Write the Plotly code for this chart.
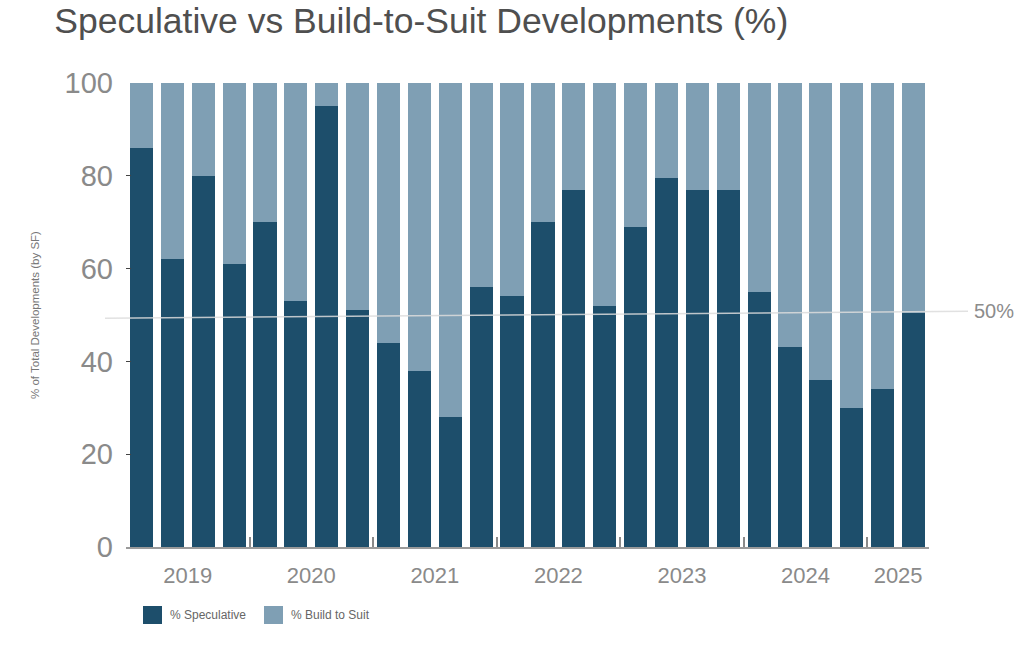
import plotly.graph_objects as go

quarters = [f"{y} Q{q}" for y in range(2019, 2025) for q in range(1, 5)] + ["2025 Q1", "2025 Q2"]
speculative = [86, 62, 80, 61, 70, 53, 95, 51, 44, 38, 28, 56, 54, 70, 77, 52,
               69, 79.5, 77, 77, 55, 43, 36, 30, 34, 50.5]
build_to_suit = [100 - v for v in speculative]
series_names = ["% Speculative", "% Build to Suit"]
year_labels = ["2019", "2020", "2021", "2022", "2023", "2024", "2025"]
year_label_pos = [1.5, 5.5, 9.5, 13.5, 17.5, 21.5, 24.5]
year_boundaries = [-0.5, 3.5, 7.5, 11.5, 15.5, 19.5, 23.5, 25.5]
y_ticks = [0, 20, 40, 60, 80, 100]
ref_line = [49.3, 50.8]

DARK = "#1d4e6b"
LIGHT = "#7f9fb4"
COLORS = [DARK, LIGHT]
W, H = 1024, 646
ML, MR, MT, MB = 126, 95, 83, 99
PW, PH = W - ML - MR, H - MT - MB


def px_x(px):
    return (px - ML) / PW


def px_y(py):
    return (H - MB - py) / PH


xs = list(range(len(quarters)))

fig = go.Figure()
for vals, name, col in zip([speculative, build_to_suit], series_names, COLORS):
    fig.add_trace(go.Bar(x=xs, y=vals, name=name, marker_color=col,
                         marker_line_width=0, customdata=quarters,
                         hovertemplate="%{customdata}: %{y}%<extra></extra>"))

# boundary tick marks on an overlaid axis
fig.add_trace(go.Scatter(x=[year_boundaries[0], year_boundaries[-1]], y=[0, 0], xaxis="x2",
                         mode="lines", line=dict(width=0), showlegend=False, hoverinfo="skip"))

# 50% reference line (slightly tilted as in the source image)
fig.add_shape(type="line", xref="paper", yref="y", x0=px_x(105), x1=px_x(968),
              y0=ref_line[0], y1=ref_line[1], line=dict(color="rgba(220,220,220,0.85)", width=1.5),
              layer="above")
fig.add_annotation(xref="paper", yref="y", x=px_x(972), y=ref_line[1], text="50%",
                   showarrow=False, xanchor="left", yanchor="middle",
                   font=dict(family="Liberation Sans", size=20, color="#8c8c8c"))

# custom legend with large swatches
legend_x = [143, 264]
for lx, name, col in zip(legend_x, series_names, COLORS):
    fig.add_shape(type="rect", xref="paper", yref="paper",
                  x0=px_x(lx), x1=px_x(lx + 19), y0=px_y(624), y1=px_y(606),
                  fillcolor=col, line=dict(width=0))
    fig.add_annotation(xref="paper", yref="paper", x=px_x(lx + 25), y=px_y(615), text=name,
                       showarrow=False, xanchor="left", yanchor="middle",
                       font=dict(family="Liberation Sans Narrow, Liberation Sans", size=12, color="#666666"))

fig.update_layout(
    width=W, height=H,
    barmode="stack", bargap=0.25,
    plot_bgcolor="white", paper_bgcolor="white",
    margin=dict(l=ML, r=MR, t=MT, b=MB, autoexpand=False),
    title=dict(text="Speculative vs Build-to-Suit Developments (%)", x=0.053, xref="container",
               xanchor="left", y=0.968, yref="container", yanchor="middle",
               font=dict(family="Liberation Sans", size=35.5, color="#4f4f4f")),
    xaxis=dict(range=[-0.5, 25.5], tickmode="array", tickvals=year_label_pos, ticktext=year_labels,
               ticks="", showgrid=False, zeroline=False, showline=True, linecolor="#9a9a9a",
               linewidth=1.5, tickfont=dict(family="Liberation Sans", size=22, color="#8a8a8a"),
               ticklabelstandoff=8, fixedrange=True, automargin=False),
    xaxis2=dict(overlaying="x", range=[-0.5, 25.5], tickmode="array", tickvals=year_boundaries,
                ticks="inside", ticklen=10, tickwidth=1.5, tickcolor="#8a8a8a",
                showticklabels=False, showgrid=False, zeroline=False, showline=False,
                anchor="y", side="bottom", automargin=False),
    yaxis=dict(range=[0, 100], tickmode="array", tickvals=y_ticks, ticks="inside", ticklen=5,
               tickcolor="#444444", showgrid=False, zeroline=False, showline=False,
               tickfont=dict(family="Liberation Sans", size=29, color="#8a8a8a"),
               ticklabelstandoff=12, automargin=False,
               title=dict(text="% of Total Developments (by SF)", standoff=22,
                          font=dict(family="Liberation Sans Narrow, Liberation Sans", size=11.5, color="#777777"))),
    showlegend=False,
)

fig.write_html("out.html", config={"displayModeBar": False},
               post_script="document.body.style.margin='0';")
